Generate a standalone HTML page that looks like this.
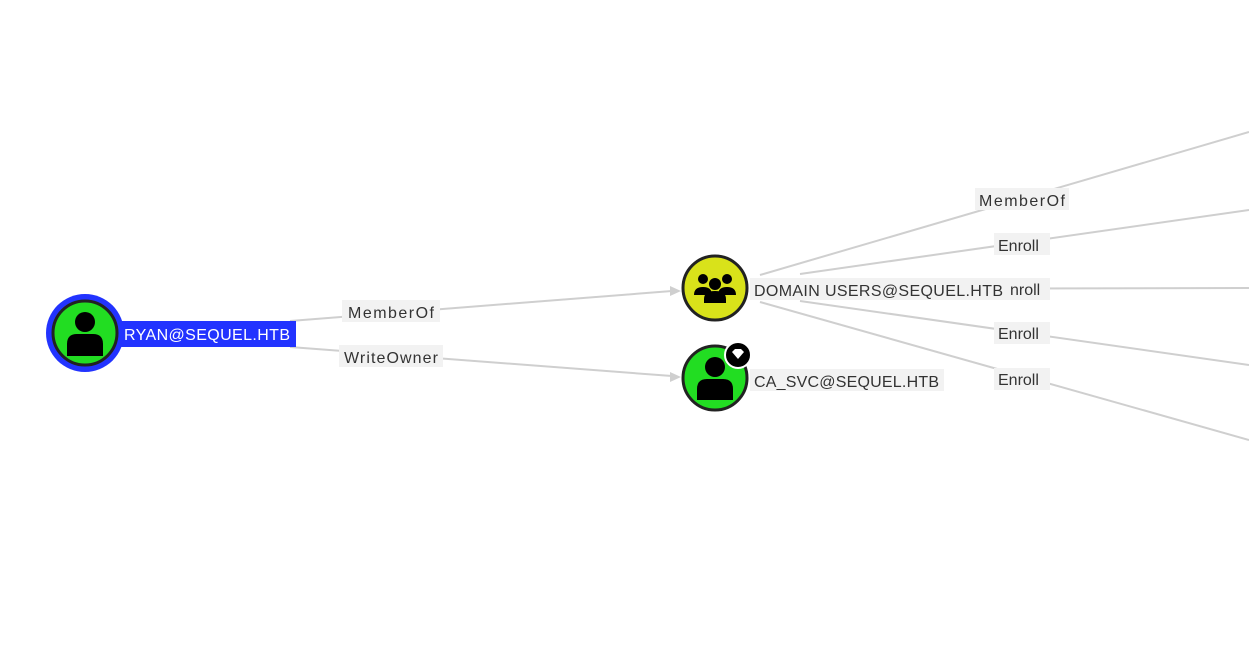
<!DOCTYPE html>
<html><head><style>
html,body{margin:0;padding:0;background:#fff;width:1249px;height:649px;overflow:hidden}
text{font-family:"Liberation Sans",sans-serif;font-size:16px;fill:#333}
</style></head><body>
<svg width="1249" height="649" viewBox="0 0 1249 649" xmlns="http://www.w3.org/2000/svg">
<g stroke="#cfcfcf" stroke-width="2" fill="none">
<line x1="290" y1="321" x2="672" y2="291"/>
<line x1="290" y1="347" x2="672" y2="376"/>
<line x1="760" y1="275" x2="1249" y2="132"/>
<line x1="800" y1="274" x2="1249" y2="210"/>
<line x1="760" y1="289" x2="1249" y2="288"/>
<line x1="800" y1="301" x2="1249" y2="365"/>
<line x1="760" y1="302" x2="1249" y2="440"/>
</g>
<polygon points="681,291 670,286 670,296" fill="#cfcfcf"/>
<polygon points="681,377 670,372 670,382" fill="#cfcfcf"/>
<g fill="#f2f2f2">
<rect x="342" y="300" width="98" height="22"/>
<rect x="339" y="345" width="104" height="22"/>
<rect x="975" y="188" width="94" height="22"/>
<rect x="994" y="233" width="56" height="22"/>
<rect x="1006" y="278" width="44" height="22"/>
<rect x="994" y="322" width="56" height="22"/>
<rect x="994" y="368" width="56" height="22"/>
<rect x="750" y="278" width="258" height="22"/>
<rect x="750" y="369" width="194" height="22"/>
</g>
<text x="348" y="318" textLength="86">MemberOf</text>
<text x="344" y="363" textLength="94">WriteOwner</text>
<text x="979" y="206" textLength="86">MemberOf</text>
<text x="998" y="251">Enroll</text>
<text x="1010" y="295">nroll</text>
<text x="998" y="339">Enroll</text>
<text x="998" y="385">Enroll</text>
<text x="754" y="296" textLength="249">DOMAIN USERS@SEQUEL.HTB</text>
<text x="754" y="387" textLength="185">CA_SVC@SEQUEL.HTB</text>
<!-- Ryan -->
<rect x="110" y="321" width="186" height="26" fill="#2233ff"/>
<circle cx="85" cy="333" r="39" fill="#2233ff"/>
<circle cx="85" cy="333" r="32" fill="#22dd22" stroke="#222" stroke-width="3"/>
<circle cx="85" cy="322" r="10" fill="#000"/>
<path d="M67,356 v-12 q0,-10 10,-10 h16 q10,0 10,10 v12 z" fill="#000"/>
<text x="124" y="340" textLength="166" style="fill:#fff">RYAN@SEQUEL.HTB</text>
<!-- Domain users -->
<circle cx="715" cy="288" r="32" fill="#d9e21a" stroke="#222" stroke-width="3"/>
<circle cx="703" cy="279" r="5" fill="#000"/><circle cx="727" cy="279" r="5" fill="#000"/>
<circle cx="715" cy="284" r="6" fill="#000"/>
<path d="M694,295 q0,-8 9,-8 q9,0 9,8 z M718,295 q0,-8 9,-8 q9,0 9,8 z" fill="#000"/>
<path d="M704,303 v-4 q0,-8 11,-8 q11,0 11,8 v4 z" fill="#000"/>
<!-- CA_SVC -->
<circle cx="715" cy="378" r="32" fill="#22dd22" stroke="#222" stroke-width="3"/>
<circle cx="715" cy="367" r="10" fill="#000"/>
<path d="M697,400 v-11 q0,-10 10,-10 h16 q10,0 10,10 v11 z" fill="#000"/>
<circle cx="738" cy="355" r="13" fill="#000" stroke="#fff" stroke-width="2"/>
<path d="M732,352 l3,-3 h6 l3,3 l-6,7 z" fill="#fff"/>
</svg>
</body></html>
